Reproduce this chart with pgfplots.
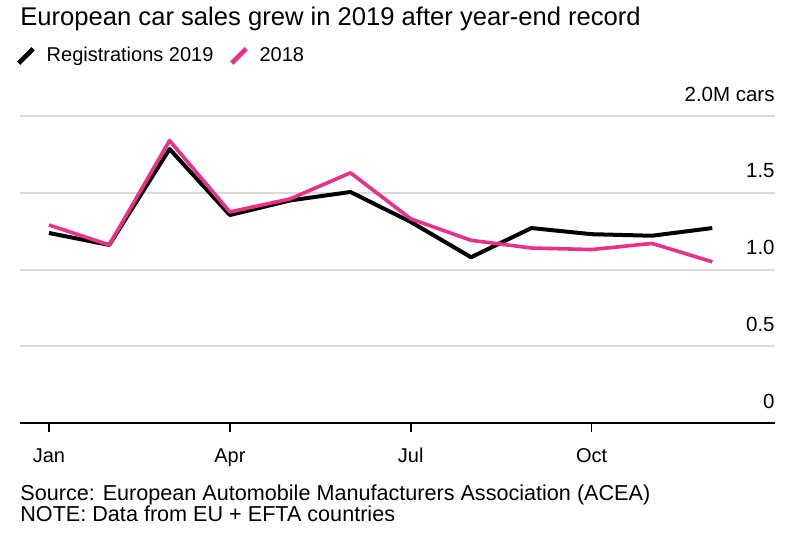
\documentclass[border=0pt]{standalone}
\usepackage{fontspec}
\setmainfont{Liberation Sans}
\usepackage{pgfplots}
\pgfplotsset{compat=1.18}
\definecolor{pinkline}{RGB}{236,48,138}
\definecolor{gridgray}{RGB}{217,217,217}
\begin{document}
\begin{tikzpicture}
\useasboundingbox (0,0) rectangle (400pt,269pt);
\node[anchor=base west, inner sep=0pt, font=\fontsize{12.8}{15}\selectfont] at (10pt,256.5pt) {European car sales grew in 2019 after year-end record};
\node[anchor=base west, inner sep=0pt, font=\fontsize{10.8}{12}\selectfont] at (10pt,19pt) {Source: European Automobile Manufacturers Association (ACEA)};
\node[anchor=base west, inner sep=0pt, font=\fontsize{10.8}{12}\selectfont] at (10pt,8.5pt) {NOTE: Data from EU + EFTA countries};
\begin{axis}[
  at={(10pt,57.5pt)}, anchor=south west,
  scale only axis, width=377.5pt, height=153.5pt,
  xmin=-0.48, xmax=12.04, ymin=0, ymax=2,
  axis x line*=bottom, axis y line*=right,
  y axis line style={draw=none},
  x axis line style={black, line width=0.75pt},
  xtick={0,3,6,9}, xticklabels={Jan,Apr,Jul,Oct},
  xtick style={black, line width=0.75pt},
  major tick length=4.5pt, tick align=outside,
  xticklabel style={anchor=north, inner sep=0pt, yshift=-8pt, font=\fontsize{10}{11}\selectfont},
  ytick={0.5,1,1.5,2}, yticklabels={0.5,1.0,1.5,2.0M cars},
  extra y ticks={0}, extra y tick labels={0},
  extra y tick style={ymajorgrids=false},
  ytick style={draw=none},
  yticklabel style={anchor=base east, inner sep=0pt, xshift=-4.5pt, yshift=7.5pt, font=\fontsize{10.25}{11}\selectfont},
  ymajorgrids, grid style={gridgray, line width=1pt},
  legend style={at={(0,1)}, anchor=west, yshift=30pt, xshift=-5pt, draw=none, fill=none,
    legend columns=-1, font=\fontsize{10}{11}\selectfont,
    /tikz/every even column/.append style={column sep=6pt}},
  legend image code/.code={\draw[#1, line cap=butt, line width=2.3pt] (0pt,-3.6pt) -- (7.2pt,3.6pt); \path (11pt,0pt);},
  legend cell align=left,
]
\addplot[black, line width=2pt, line join=round] coordinates {
(0,1.238) (1,1.16) (2,1.785) (3,1.355) (4,1.45) (5,1.505) (6,1.31) (7,1.08) (8,1.27) (9,1.23) (10,1.22) (11,1.27)};
\addlegendentry{Registrations 2019}
\addplot[pinkline, line width=1.8pt, line join=round] coordinates {
(0,1.29) (1,1.16) (2,1.84) (3,1.375) (4,1.46) (5,1.63) (6,1.33) (7,1.19) (8,1.14) (9,1.13) (10,1.17) (11,1.05)};
\addlegendentry{2018}
\end{axis}
\end{tikzpicture}
\end{document}
